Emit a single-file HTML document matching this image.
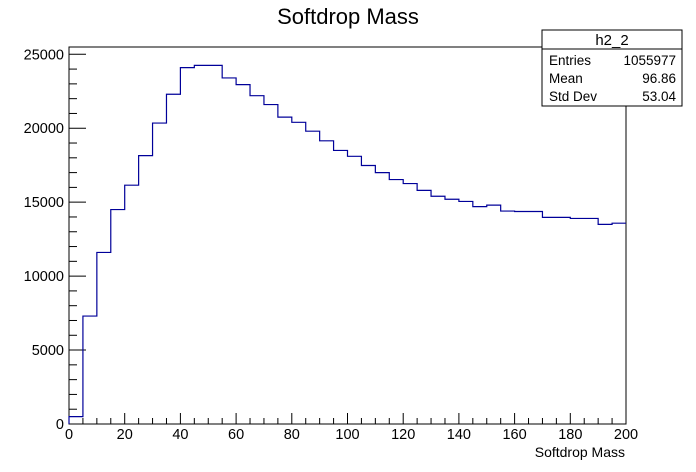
<!DOCTYPE html>
<html><head><meta charset="utf-8"><style>
body{margin:0;background:#fff;}
svg{display:block;font-family:"Liberation Sans",sans-serif;}
</style></head><body>
<svg id="c" width="696" height="472" viewBox="0 0 696 472">
<rect width="696" height="472" fill="#fff"/>
<text x="348" y="24" font-size="22" text-anchor="middle">Softdrop Mass</text>
<rect x="69" y="47" width="557" height="377" fill="none" stroke="#000" stroke-width="1"/>
<g id="axes"></g>
<path id="hist" fill="none" stroke="#000099" stroke-width="1.2"/>
<text x="625" y="457" font-size="14" text-anchor="end">Softdrop Mass</text>
<g>
<rect x="542" y="30" width="140" height="76" fill="#fff" stroke="#000"/>
<line x1="542" y1="49" x2="682" y2="49" stroke="#000"/>
<text x="612" y="45" font-size="15" text-anchor="middle">h2_2</text>
<text x="549" y="65" font-size="13.5">Entries</text>
<text x="676" y="65" font-size="13.5" text-anchor="end">1055977</text>
<text x="549" y="83" font-size="13.5">Mean</text>
<text x="676" y="83" font-size="13.5" text-anchor="end">96.86</text>
<text x="549" y="101" font-size="13.5">Std Dev</text>
<text x="676" y="101" font-size="13.5" text-anchor="end">53.04</text>
</g>
</svg>
<script>
const binEdgesStart = 0;
const binWidth = 5;
const counts = [500,7300,11600,14500,16150,18150,20350,22300,24100,24250,24250,23400,22950,22200,21600,20750,20400,19800,19150,18500,18100,17480,17000,16530,16260,15800,15400,15200,15050,14700,14800,14400,14370,14370,13970,13970,13900,13900,13500,13580];
const xTicks = [0,20,40,60,80,100,120,140,160,180,200];
const yTicks = [0,5000,10000,15000,20000,25000];
const X0=69,X1=626,Y0=424,Ytop=54.3;
const xs=v=>X0+(v-0)/200*(X1-X0);
const ys=v=>Y0-v/25000*(Y0-Ytop);
const NS="http://www.w3.org/2000/svg";
const g=document.getElementById('axes');
function line(x1,y1,x2,y2){const l=document.createElementNS(NS,'line');l.setAttribute('x1',x1);l.setAttribute('y1',y1);l.setAttribute('x2',x2);l.setAttribute('y2',y2);l.setAttribute('stroke','#000');g.appendChild(l);return l;}
function text(x,y,s,anchor){const t=document.createElementNS(NS,'text');t.setAttribute('x',x);t.setAttribute('y',y);t.setAttribute('font-size','14.5');t.setAttribute('text-anchor',anchor);t.textContent=s;g.appendChild(t);return t;}
for(let v=0;v<=200;v+=5){const x=xs(v);const l=line(x,Y0,x,Y0-(v%20===0?11:6));

}
for(let v=0;v<=25000;v+=1000){const y=ys(v);const l=line(X0,y,X0+(v%5000===0?17:8),y);

}
xTicks.forEach(v=>{const t=text(xs(v),439,String(v),'middle');

});
yTicks.forEach(v=>{const t=text(64,ys(v)+5,String(v),'end');

});
let d='M'+xs(binEdgesStart)+','+Y0;
counts.forEach((c,i)=>{const a=xs(binEdgesStart+i*binWidth),b=xs(binEdgesStart+(i+1)*binWidth);d+=' L'+a+','+ys(c)+' L'+b+','+ys(c);});
document.getElementById('hist').setAttribute('d',d);
</script>
</body></html>
